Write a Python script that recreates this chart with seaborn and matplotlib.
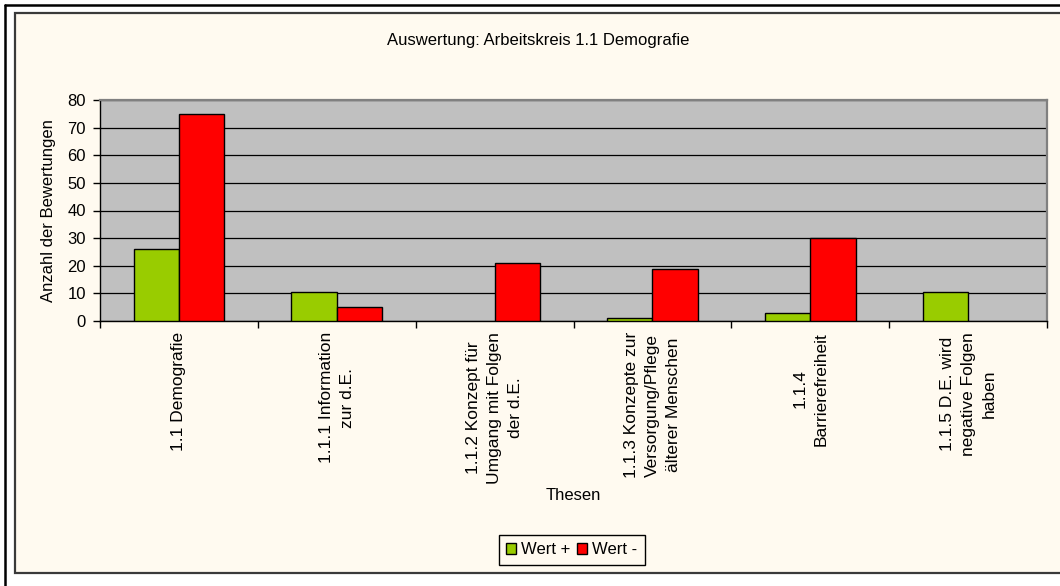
import matplotlib
matplotlib.use("Agg")
import matplotlib.pyplot as plt
import matplotlib.patches as mpatches
from matplotlib.lines import Line2D
import seaborn as sns
import pandas as pd
import numpy as np

# ---- data ----
categories = [
    "1.1 Demografie",
    "1.1.1 Information\nzur d.E.",
    "1.1.2 Konzept für\nUmgang mit Folgen\nder d.E.",
    "1.1.3 Konzepte zur\nVersorgung/Pflege\nälterer Menschen",
    "1.1.4\nBarrierefreiheit",
    "1.1.5 D.E. wird\nnegative Folgen\nhaben",
]
wert_plus = [26, 10.5, 0, 1, 3, 10.5]
wert_minus = [75, 5, 21, 19, 30, 0]
series_names = ["Wert +", "Wert -"]
y_ticks = [0, 10, 20, 30, 40, 50, 60, 70, 80]

title = "Auswertung: Arbeitskreis 1.1 Demografie"
x_label = "Thesen"
y_label = "Anzahl der Bewertungen"

green = "#99CC00"
red = "#FF0000"
beige = "#FFFAF0"
FS = 12

df = pd.DataFrame({
    "These": categories * 2,
    "Serie": [series_names[0]] * len(categories) + [series_names[1]] * len(categories),
    "Anzahl": wert_plus + wert_minus,
})

sns.set_theme(style="white", rc={"axes.facecolor": "#C0C0C0",
                                 "text.color": "black",
                                 "axes.labelcolor": "black",
                                 "xtick.color": "black",
                                 "ytick.color": "black"})
plt.rcParams["font.family"] = ["Liberation Sans", "DejaVu Sans"]

W, H = 1060, 586
fig = plt.figure(figsize=(W / 100, H / 100), dpi=100, facecolor="white")

def fx(px):
    return px / W

def fy(py):
    return 1 - py / H

# chart-area frame (beige) and outer border
frame = mpatches.Rectangle((fx(15), fy(573)), fx(1070 - 15), (573 - 13) / H,
                           transform=fig.transFigure, facecolor=beige,
                           edgecolor="#3a3a3a", linewidth=1.6, zorder=-5)
fig.patches.append(frame)
fig.lines.append(Line2D([fx(5), fx(5)], [fy(5), 0], transform=fig.transFigure,
                        color="black", linewidth=1.8, zorder=-4))
fig.lines.append(Line2D([fx(5), 1.0], [fy(5), fy(5)], transform=fig.transFigure,
                        color="black", linewidth=1.8, zorder=-4))

# plot area
left, right, top, bottom = 100, 1047, 100, 321
ax = fig.add_axes([fx(left), fy(bottom), fx(right - left), (bottom - top) / H],
                  zorder=2)
ax.set_facecolor("#C0C0C0")

sns.barplot(data=df, x="These", y="Anzahl", hue="Serie",
            palette=[green, red], width=0.575, edgecolor="black",
            linewidth=1.0, saturation=1, ax=ax, legend=False, zorder=3)
# empty bars show no outline
for p in ax.patches:
    if p.get_height() == 0:
        p.set_linewidth(0)

ax.set_xlim(-0.5, len(categories) - 0.5)
ax.set_ylim(0, 80)
ax.set_yticks(y_ticks)
ax.set_yticklabels([str(t) for t in y_ticks], fontsize=FS, color="black")
ax.yaxis.grid(True, color="black", linewidth=0.9)
ax.set_axisbelow(True)

ax.set_xticks(range(len(categories)))
ax.set_xticklabels(categories, rotation=90, fontsize=12.5, ha="center",
                   va="top", multialignment="center", color="black",
                   linespacing=1.5)
ax.tick_params(axis="x", which="major", length=0, pad=8)
ax.set_xticks(np.arange(-0.5, len(categories), 1), minor=True)
ax.tick_params(axis="x", which="minor", length=5, width=1, color="black",
               direction="out", bottom=True)
ax.tick_params(axis="y", which="major", length=5, width=1, color="black",
               direction="out", left=True, pad=5)

for side in ["left", "bottom"]:
    ax.spines[side].set_color("black")
    ax.spines[side].set_linewidth(1.0)
for side in ["top", "right"]:
    ax.spines[side].set_color("#808080")
    ax.spines[side].set_linewidth(1.6)

ax.set_xlabel("")
ax.set_ylabel(y_label, fontsize=FS, color="black", labelpad=8)

fig.text(fx(573), fy(496), x_label, ha="center", va="center", fontsize=FS,
         color="black")
fig.text(fx(538), fy(40), title, ha="center", va="center", fontsize=FS,
         color="black")

handles = [mpatches.Patch(facecolor=green, edgecolor="black", linewidth=1.0),
           mpatches.Patch(facecolor=red, edgecolor="black", linewidth=1.0)]
leg = fig.legend(handles, series_names, loc="center", ncol=2,
                 bbox_to_anchor=(fx(572), fy(550)), fontsize=FS,
                 frameon=True, fancybox=False, edgecolor="black",
                 facecolor=beige, framealpha=1, handlelength=0.6,
                 handleheight=0.6, handletextpad=0.3, columnspacing=0.4,
                 borderpad=0.45, borderaxespad=0)
leg.get_frame().set_linewidth(1.0)
for t in leg.get_texts():
    t.set_color("black")

fig.savefig("out.png", dpi=100, facecolor="white")
